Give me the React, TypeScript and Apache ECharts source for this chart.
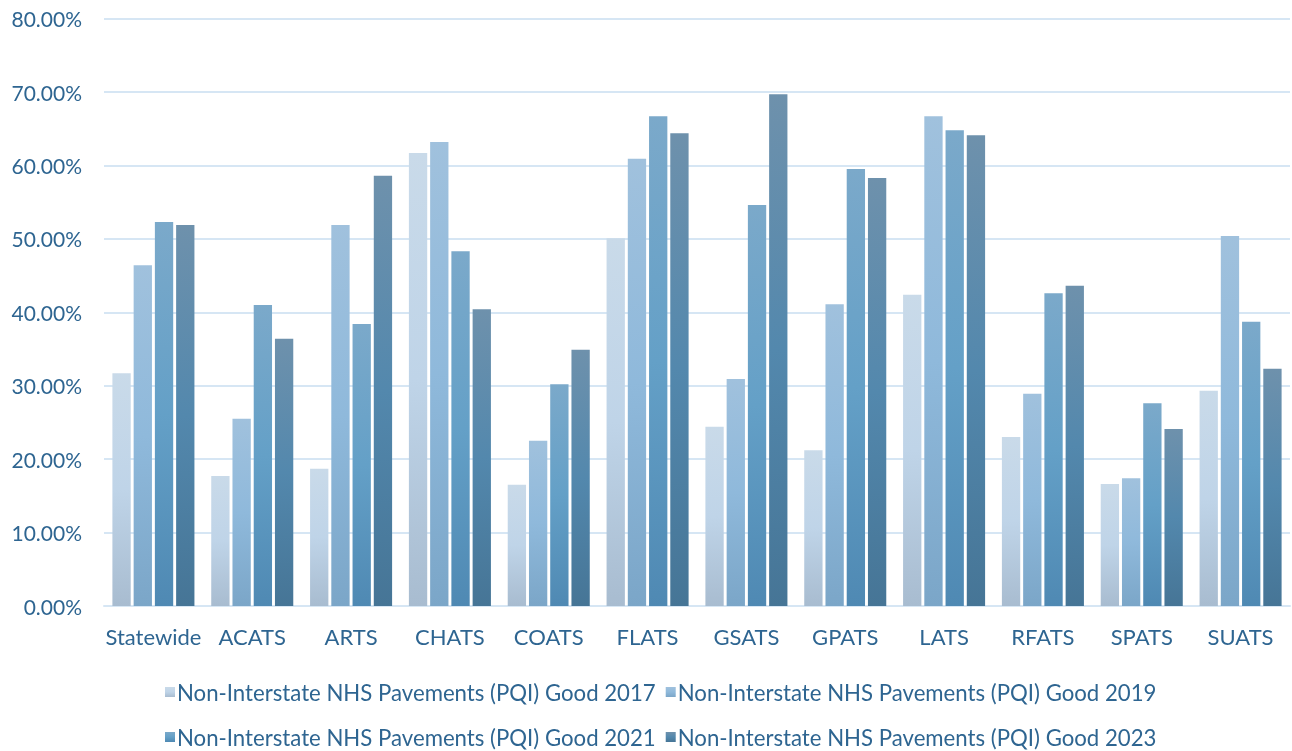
import React, { useEffect, useRef } from "react";
import * as echarts from "echarts";

const categories = ["Statewide", "ACATS", "ARTS", "CHATS", "COATS", "FLATS", "GSATS", "GPATS", "LATS", "RFATS", "SPATS", "SUATS"];
const seriesNames = [
  "Non-Interstate NHS Pavements (PQI) Good 2017",
  "Non-Interstate NHS Pavements (PQI) Good 2019",
  "Non-Interstate NHS Pavements (PQI) Good 2021",
  "Non-Interstate NHS Pavements (PQI) Good 2023",
];
const good2017 = [31.7, 17.7, 18.7, 61.7, 16.5, 50.1, 24.4, 21.2, 42.4, 23.0, 16.6, 29.3];
const good2019 = [46.4, 25.5, 51.9, 63.2, 22.5, 60.9, 30.9, 41.1, 66.7, 28.9, 17.4, 50.4];
const good2021 = [52.3, 41.0, 38.4, 48.3, 30.2, 66.7, 54.6, 59.5, 64.8, 42.6, 27.6, 38.7];
const good2023 = [51.9, 36.4, 58.6, 40.4, 34.9, 64.4, 69.7, 58.3, 64.1, 43.6, 24.1, 32.3];

const gradients = [
  ["#c9dae9", "#bfd4e8", "#a8bcd0"],
  ["#a0c1dd", "#8fb9db", "#7ba6c8"],
  ["#7ba9ca", "#64a0c7", "#4f89b3"],
  ["#6e91ac", "#5388ad", "#467596"],
];

const FONT = "Lato";
const TEXT_COLOR = "#2e6591";

function grad(c: string[]) {
  return new echarts.graphic.LinearGradient(0, 0, 0, 1, [
    { offset: 0, color: c[0] },
    { offset: 0.5, color: c[1] },
    { offset: 1, color: c[2] },
  ]);
}

export default function App() {
  const ref = useRef<HTMLDivElement>(null);
  useEffect(() => {
    if (!ref.current) return;
    const chart = echarts.init(ref.current, undefined, { renderer: "svg" });
    const data = [good2017, good2019, good2021, good2023];
    const legendCommon = {
      orient: "horizontal" as const,
      itemWidth: 10,
      itemHeight: 10,
      itemGap: 10,
      icon: "rect",
      textStyle: { color: TEXT_COLOR, fontFamily: FONT, fontSize: 22.2, padding: [0, 0, 0, -3] },
    };
    chart.setOption({
      animation: false,
      textStyle: { fontFamily: FONT },
      grid: { left: 104, right: 2, top: 18.6, bottom: 145, containLabel: false },
      legend: [
        { ...legendCommon, data: [seriesNames[0], seriesNames[1]], left: 160, top: 676 },
        { ...legendCommon, data: [seriesNames[2], seriesNames[3]], left: 160, top: 721 },
      ],
      xAxis: {
        type: "category",
        data: categories,
        axisLine: { lineStyle: { color: "#d6e6f4", width: 2 } },
        axisTick: { show: false },
        axisLabel: { color: TEXT_COLOR, fontFamily: FONT, fontSize: 22, margin: 19, interval: 0 },
      },
      yAxis: {
        type: "value",
        min: 0,
        max: 80,
        interval: 10,
        axisLine: { show: false },
        axisTick: { show: false },
        splitLine: { lineStyle: { color: "#d6e6f4", width: 2 } },
        axisLabel: {
          color: TEXT_COLOR,
          fontFamily: FONT,
          fontSize: 21,
          margin: 22,
          formatter: (v: number) => v.toFixed(2) + "%",
        },
      },
      series: data.map((d, i) => ({
        name: seriesNames[i],
        type: "bar",
        data: d,
        barGap: "16%",
        barCategoryGap: "17%",
        itemStyle: { color: grad(gradients[i]) },
      })),
    });
    return () => chart.dispose();
  }, []);
  return <div ref={ref} style={{ position: "fixed", left: 0, top: 0, width: 1292, height: 751 }} />;
}
